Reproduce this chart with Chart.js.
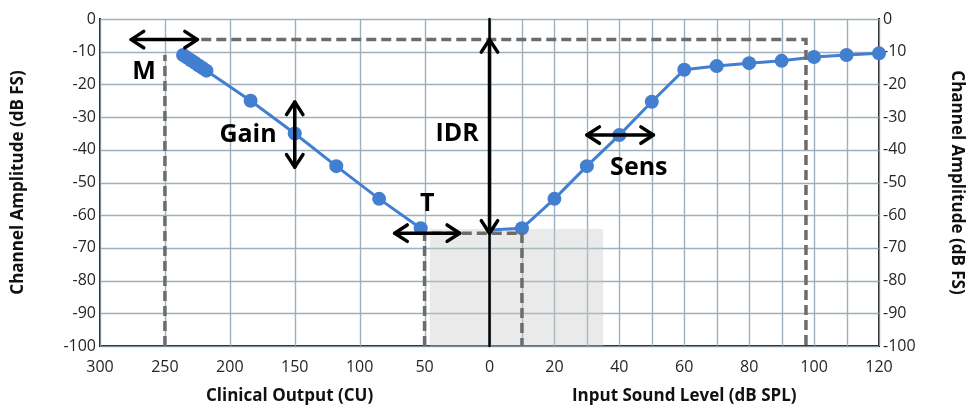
<!DOCTYPE html>
<html>
<head>
<meta charset="utf-8">
<script src="https://cdn.jsdelivr.net/npm/chart.js@4"></script>
<style>
  html, body { margin: 0; padding: 0; background: #fff; }
  #wrap { width: 971px; height: 408px; }
</style>
</head>
<body>
<div id="wrap"><canvas id="myChart"></canvas></div>
<script>
// Left half: clinical output (CU) -> channel amplitude
const cuLevels = [236, 233, 230, 227, 224, 221, 218, 184, 150, 118, 85, 53];
const cuAmplitude = [-11, -11.8, -12.6, -13.4, -14.2, -15, -15.8, -25, -35, -45, -55, -64];

// Right half: input sound level (dB SPL) -> channel amplitude
const splLevels = [0, 10, 20, 30, 40, 50, 60, 70, 80, 90, 100, 110, 120];
const splAmplitude = [-64.5, -64, -55, -45, -35.5, -25.3, -15.5, -14.4, -13.5, -12.8, -11.6, -11, -10.5];

// Tick labels
const cuTicks = [300, 250, 200, 150, 100, 50];
const splTicks = [0, 20, 40, 60, 80, 100, 120];
const ampTicks = [0, -10, -20, -30, -40, -50, -60, -70, -80, -90, -100];

// both halves share one x axis: 50 CU takes the same room as 20 dB
const cuToX = cu => -cu / 25;
const splToX = db => db / 10;

const blue = '#437fd0';
const gridColor = 'rgba(140,162,176,0.85)';
const dashGray = '#6c6c6c';
const axisDark = '#1c1c1c';

Chart.defaults.font.family = "'Open Sans', sans-serif";
Chart.defaults.color = '#262626';

const dashed = (pts) => ({
  data: pts.map(p => ({ x: p[0], y: p[1] })),
  borderColor: dashGray,
  borderWidth: 3.5,
  borderDash: [10, 5],
  pointRadius: 0,
  fill: false,
  tension: 0,
  clip: false
});

function head(ctx, x, y, ang) {
  const L = 15, a = 0.58;
  ctx.beginPath();
  ctx.moveTo(x - L * Math.cos(ang - a), y - L * Math.sin(ang - a));
  ctx.lineTo(x, y);
  ctx.lineTo(x - L * Math.cos(ang + a), y - L * Math.sin(ang + a));
  ctx.stroke();
}
function arrow(ctx, x1, y1, x2, y2) {
  const ang = Math.atan2(y2 - y1, x2 - x1);
  ctx.beginPath();
  ctx.moveTo(x1, y1);
  ctx.lineTo(x2, y2);
  ctx.stroke();
  head(ctx, x2, y2, ang);
  head(ctx, x1, y1, ang + Math.PI);
}

const overlay = {
  id: 'overlay',
  beforeDatasetsDraw(chart) {
    const { ctx, chartArea: area, scales: { x, y } } = chart;
    ctx.save();
    // grid: every 10 dB on y, every 50 CU / 10 dB on x
    ctx.strokeStyle = gridColor;
    ctx.lineWidth = 1.4;
    ctx.beginPath();
    ampTicks.forEach(v => {
      const p = Math.round(y.getPixelForValue(v)) + 0.5;
      ctx.moveTo(area.left, p);
      ctx.lineTo(area.right, p);
    });
    const xs = cuTicks.map(cuToX).concat(splLevels.map(splToX));
    xs.forEach(v => {
      const p = Math.round(x.getPixelForValue(v)) + 0.5;
      ctx.moveTo(p, area.top);
      ctx.lineTo(p, area.bottom);
    });
    ctx.stroke();

    // grey range behind the low end
    const x0 = x.getPixelForValue(cuToX(46)), x1 = x.getPixelForValue(splToX(35));
    const y0 = y.getPixelForValue(-64.2), y1 = y.getPixelForValue(-100);
    ctx.fillStyle = 'rgba(200,200,200,0.38)';
    ctx.fillRect(x0, y0, x1 - x0, y1 - y0);
    ctx.restore();
  },
  afterDatasetsDraw(chart) {
    const { ctx, scales: { x, y } } = chart;
    const px = v => x.getPixelForValue(v), py = v => y.getPixelForValue(v);
    ctx.save();
    ctx.strokeStyle = '#000';
    ctx.lineCap = 'round';
    ctx.lineJoin = 'round';

    // zero line between the two halves
    ctx.lineWidth = 2.5;
    ctx.beginPath();
    ctx.moveTo(px(0), py(0));
    ctx.lineTo(px(0), py(-100));
    ctx.stroke();

    ctx.lineWidth = 3.5;
    arrow(ctx, px(cuToX(276)), py(-6.3), px(cuToX(225)), py(-6.3));   // M
    arrow(ctx, px(cuToX(150)), py(-25.4), px(cuToX(150)), py(-45.3)); // Gain
    arrow(ctx, px(0), py(-6.3), px(0), py(-65.5));                    // IDR
    arrow(ctx, px(cuToX(73)), py(-65.5), px(cuToX(23)), py(-65.5));   // T
    arrow(ctx, px(splToX(30)), py(-35.5), px(splToX(50.5)), py(-35.5)); // Sens

    ctx.fillStyle = '#000';
    ctx.font = "bold 25px 'Open Sans', sans-serif";
    ctx.textAlign = 'center';
    ctx.textBaseline = 'middle';
    ctx.fillText('M', px(cuToX(266)), py(-16.2));
    ctx.fillText('Gain', px(cuToX(186)), py(-35.5));
    ctx.fillText('IDR', px(cuToX(25)), py(-35.2));
    ctx.fillText('T', px(cuToX(48)), py(-56.6));
    ctx.fillText('Sens', px(splToX(46)), py(-45.6));
    ctx.restore();
  },
  afterDraw(chart) {
    const { ctx, scales: { x } } = chart;
    ctx.save();
    ctx.fillStyle = '#111';
    ctx.font = "bold 17px 'Open Sans', sans-serif";
    ctx.textAlign = 'center';
    ctx.textBaseline = 'middle';
    ctx.fillText('Clinical Output (CU)', x.getPixelForValue(cuToX(154)), 396);
    ctx.fillText('Input Sound Level (dB SPL)', x.getPixelForValue(splToX(60)), 396);
    ctx.restore();
  }
};

const tickFont = { size: 16 };
const titleFont = { size: 17, weight: 'bold' };

const config = {
  type: 'line',
  data: {
    datasets: [
      dashed([[-10, -100], [-10, -11]]),
      dashed([[cuToX(222), -6.3], [splToX(97.5), -6.3], [splToX(97.5), -100]]),
      dashed([[cuToX(50), -100], [cuToX(50), -65.5], [splToX(10), -65.5], [splToX(10), -100]]),
      {
        data: cuLevels.map((c, i) => ({ x: cuToX(c), y: cuAmplitude[i] })),
        borderColor: blue,
        backgroundColor: blue,
        borderWidth: 3,
        pointRadius: 7,
        pointBorderWidth: 0,
        tension: 0,
        clip: false
      },
      {
        data: splLevels.map((d, i) => ({ x: splToX(d), y: splAmplitude[i] })),
        borderColor: blue,
        backgroundColor: blue,
        borderWidth: 3,
        pointRadius: splLevels.map(d => d === 0 ? 0 : 7),
        pointBorderWidth: 0,
        tension: 0,
        clip: false
      }
    ]
  },
  options: {
    responsive: true,
    maintainAspectRatio: false,
    animation: false,
    layout: { padding: { top: 19, right: 0, bottom: 0, left: 0 } },
    plugins: {
      legend: { display: false },
      tooltip: { enabled: false }
    },
    scales: {
      x: {
        type: 'linear',
        min: -12,
        max: 12,
        afterFit: s => { s.height = 62; },
        ticks: {
          stepSize: 1,
          autoSkip: false,
          maxRotation: 0,
          padding: 12,
          font: tickFont,
          callback: v => {
            if (v < 0) {
              const cu = Math.round(-v * 25);
              return cuTicks.includes(cu) ? String(cu) : '';
            }
            const db = Math.round(v * 10);
            return splTicks.includes(db) ? String(db) : '';
          }
        },
        grid: { display: false, drawTicks: false },
        border: { color: axisDark, width: 2 }
      },
      y: {
        position: 'left',
        min: -100,
        max: 0,
        afterFit: s => { s.width = 100; },
        ticks: { stepSize: 10, padding: 4, font: tickFont },
        grid: { display: false, drawTicks: false },
        border: { color: axisDark, width: 2 },
        title: {
          display: true,
          text: 'Channel Amplitude (dB FS)',
          font: titleFont,
          color: '#111',
          padding: { top: 8, bottom: 0 }
        }
      },
      y2: {
        position: 'right',
        min: -100,
        max: 0,
        afterFit: s => { s.width = 92; },
        ticks: { stepSize: 10, padding: 4, font: tickFont },
        grid: { display: false, drawTicks: false },
        border: { color: axisDark, width: 2 },
        title: {
          display: true,
          text: 'Channel Amplitude (dB FS)',
          font: titleFont,
          color: '#111',
          padding: { top: 4, bottom: 0 }
        }
      }
    }
  },
  plugins: [overlay]
};

const myChart = new Chart(document.getElementById('myChart'), config);
</script>
</body>
</html>
